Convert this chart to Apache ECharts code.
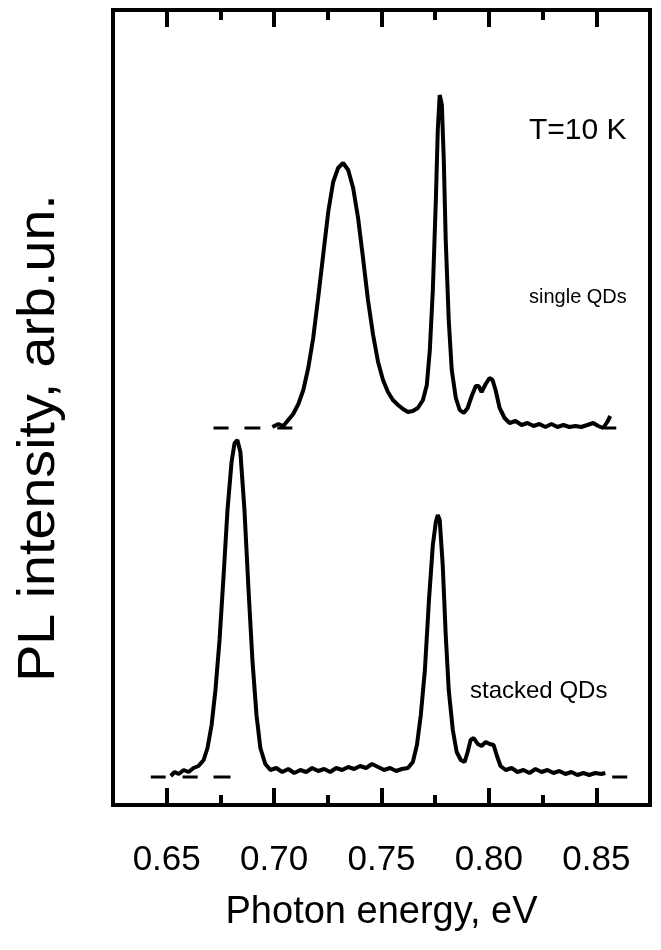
<!DOCTYPE html>
<html>
<head>
<meta charset="utf-8">
<title>PL spectra</title>
<script src="https://cdn.jsdelivr.net/npm/echarts@6/dist/echarts.min.js"></script>
<style>
  html, body { margin: 0; padding: 0; background: #fff; }
  #chart { width: 661px; height: 950px; }
</style>
</head>
<body>
<!--容器-->
<div id="chart"></div>
<script>
// tick labels (categories on the helper axes, 0.625 ... 0.875)
var tickLabels = ["", "0.65", "", "0.70", "", "0.75", "", "0.80", "", "0.85", ""];

// single QDs spectrum: photon energy (eV)
var singleX = [0.6992, 0.7020, 0.7043, 0.7066, 0.7089, 0.7113, 0.7136, 0.7159, 0.7182, 0.7205,
  0.7229, 0.7252, 0.7275, 0.7298, 0.7321, 0.7345, 0.7368, 0.7391, 0.7414, 0.7437,
  0.7461, 0.7484, 0.7507, 0.7530, 0.7553, 0.7577, 0.7600, 0.7623, 0.7646, 0.7669,
  0.7693, 0.7711, 0.7725, 0.7739, 0.7753, 0.7762, 0.7771, 0.7781, 0.7790, 0.7799,
  0.7813, 0.7827, 0.7846, 0.7864, 0.7883, 0.7901, 0.7920, 0.7939, 0.7952, 0.7966,
  0.7985, 0.8003, 0.8017, 0.8031, 0.8050, 0.8073, 0.8096, 0.8124, 0.8152, 0.8180,
  0.8208, 0.8235, 0.8263, 0.8291, 0.8319, 0.8347, 0.8375, 0.8403, 0.8430, 0.8458,
  0.8486, 0.8509, 0.8532, 0.8551, 0.8565];
// single QDs spectrum: intensity (arb. un., offset)
var singleY = [378, 381, 379, 385, 391, 401, 415, 437, 467, 507,
  551, 593, 623, 637, 642, 635, 617, 587, 547, 505,
  470, 443, 425, 413, 405, 400, 396, 393, 394, 397,
  405, 420, 455, 515, 605, 675, 710, 700, 645, 565,
  485, 435, 407, 395, 392, 397, 409, 419, 419, 413,
  421, 427, 425, 415, 397, 387, 382, 384, 380, 382,
  379, 381, 378, 381, 378, 380, 378, 379, 378, 380,
  382, 379, 377, 383, 389];

// stacked QDs spectrum
var stackedX = [0.6519, 0.6537, 0.6556, 0.6579, 0.6602, 0.6625, 0.6648, 0.6672, 0.6690, 0.6709,
  0.6727, 0.6746, 0.6765, 0.6783, 0.6802, 0.6816, 0.6829, 0.6843, 0.6862, 0.6881,
  0.6899, 0.6918, 0.6936, 0.6959, 0.6983, 0.7010, 0.7038, 0.7066, 0.7094, 0.7122,
  0.7150, 0.7177, 0.7205, 0.7233, 0.7261, 0.7289, 0.7317, 0.7345, 0.7373, 0.7400,
  0.7428, 0.7456, 0.7484, 0.7512, 0.7540, 0.7568, 0.7595, 0.7623, 0.7646, 0.7665,
  0.7683, 0.7702, 0.7721, 0.7739, 0.7753, 0.7762, 0.7771, 0.7785, 0.7799, 0.7813,
  0.7832, 0.7850, 0.7869, 0.7887, 0.7901, 0.7915, 0.7929, 0.7948, 0.7966, 0.7985,
  0.8003, 0.8022, 0.8036, 0.8054, 0.8078, 0.8106, 0.8133, 0.8161, 0.8189, 0.8217,
  0.8245, 0.8273, 0.8300, 0.8328, 0.8356, 0.8384, 0.8412, 0.8440, 0.8467, 0.8495,
  0.8523, 0.8542];
var stackedY = [29, 33, 31, 35, 33, 37, 39, 45, 57, 80,
  115, 165, 230, 295, 343, 362, 365, 353, 295, 215,
  145, 90, 57, 41, 35, 37, 33, 36, 32, 35,
  33, 37, 34, 36, 33, 37, 35, 38, 36, 39,
  37, 41, 38, 35, 37, 34, 36, 37, 43, 60,
  90, 135, 205, 260, 283, 290, 285, 240, 170, 115,
  75, 53, 45, 43, 53, 65, 67, 61, 59, 63,
  61, 60, 50, 39, 35, 37, 33, 35, 32, 36,
  33, 35, 32, 34, 31, 33, 30, 32, 30, 32,
  31, 32];

// dashed baselines: [start, end] of each dash, and the baseline level
var singleDashes = [[0.6718, 0.6788], [0.6862, 0.6936], [0.7015, 0.7085], [0.8537, 0.8593]];
var singleBase = 377;
var stackedDashes = [[0.6426, 0.6495], [0.6574, 0.6644], [0.6718, 0.6797], [0.8574, 0.8644]];
var stackedBase = 28;

function pairs(xs, ys) {
  var out = [];
  for (var i = 0; i < xs.length; i++) out.push([xs[i], ys[i]]);
  return out;
}
function dashData(dashes, level) {
  var out = [];
  dashes.forEach(function (d, i) {
    if (i > 0) out.push([d[0], '-']);
    out.push([d[0], level]);
    out.push([d[1], level]);
  });
  return out;
}

var myChart = echarts.init(document.getElementById('chart'));
var font = 'Liberation Sans, Arial, sans-serif';
var majorTick = function (idx) { return idx % 2 === 1; };

var option = {
  animation: false,
  grid: {
    left: 113, right: 11, top: 10, bottom: 145,
    show: true, borderColor: '#000', borderWidth: 4
  },
  xAxis: [
    {
      // 数据轴 + 短刻度
      type: 'value', min: 0.625, max: 0.875, interval: 0.025, position: 'bottom',
      axisLine: { show: false },
      axisTick: { show: true, inside: true, length: 10, lineStyle: { color: '#000', width: 4 } },
      axisLabel: { show: false },
      splitLine: { show: false },
      name: 'Photon energy, eV', nameLocation: 'middle', nameGap: 89,
      nameTextStyle: { color: '#000', fontSize: 38, fontFamily: font }
    },
    {
      // 长刻度 + 标签
      type: 'category', data: tickLabels, boundaryGap: false, position: 'bottom',
      axisLine: { show: false },
      axisTick: { show: true, inside: true, length: 17, interval: majorTick, lineStyle: { color: '#000', width: 4 } },
      axisLabel: { interval: majorTick, margin: 38, color: '#000', fontSize: 35, fontFamily: font },
      splitLine: { show: false }
    },
    {
      type: 'value', min: 0.625, max: 0.875, interval: 0.025, position: 'top',
      axisLine: { show: false },
      axisTick: { show: true, inside: true, length: 10, lineStyle: { color: '#000', width: 4 } },
      axisLabel: { show: false },
      splitLine: { show: false }
    },
    {
      type: 'category', data: tickLabels, boundaryGap: false, position: 'top',
      axisLine: { show: false },
      axisTick: { show: true, inside: true, length: 17, interval: majorTick, lineStyle: { color: '#000', width: 4 } },
      axisLabel: { show: false },
      splitLine: { show: false }
    }
  ],
  yAxis: {
    type: 'value', min: 0, max: 795,
    axisLine: { show: false }, axisTick: { show: false },
    axisLabel: { show: false }, splitLine: { show: false }
  },
  series: [
    {
      name: 'single QDs', type: 'line', showSymbol: false,
      data: pairs(singleX, singleY),
      lineStyle: { color: '#000', width: 4 }
    },
    {
      name: 'stacked QDs', type: 'line', showSymbol: false,
      data: pairs(stackedX, stackedY),
      lineStyle: { color: '#000', width: 4 }
    },
    {
      name: 'single base', type: 'line', showSymbol: false, connectNulls: false,
      data: dashData(singleDashes, singleBase),
      lineStyle: { color: '#000', width: 3 }
    },
    {
      name: 'stacked base', type: 'line', showSymbol: false, connectNulls: false,
      data: dashData(stackedDashes, stackedBase),
      lineStyle: { color: '#000', width: 3 }
    }
  ],
  graphic: [
    // y轴标题（竖排，略微拉长）
    {
      type: 'text', x: 40, y: 438, rotation: Math.PI / 2, scaleX: 1.07,
      style: { text: 'PL intensity, arb.un.', fill: '#000', fontSize: 52, fontFamily: font, align: 'center', verticalAlign: 'middle' }
    },
    { type: 'text', left: 529, top: 116, style: { text: 'T=10 K', fill: '#000', fontSize: 30, fontFamily: font } },
    { type: 'text', left: 529, top: 287, style: { text: 'single QDs', fill: '#000', fontSize: 20, fontFamily: font } },
    { type: 'text', left: 470, top: 679, style: { text: 'stacked QDs', fill: '#000', fontSize: 24, fontFamily: font } }
  ]
};
myChart.setOption(option);
</script>
</body>
</html>
